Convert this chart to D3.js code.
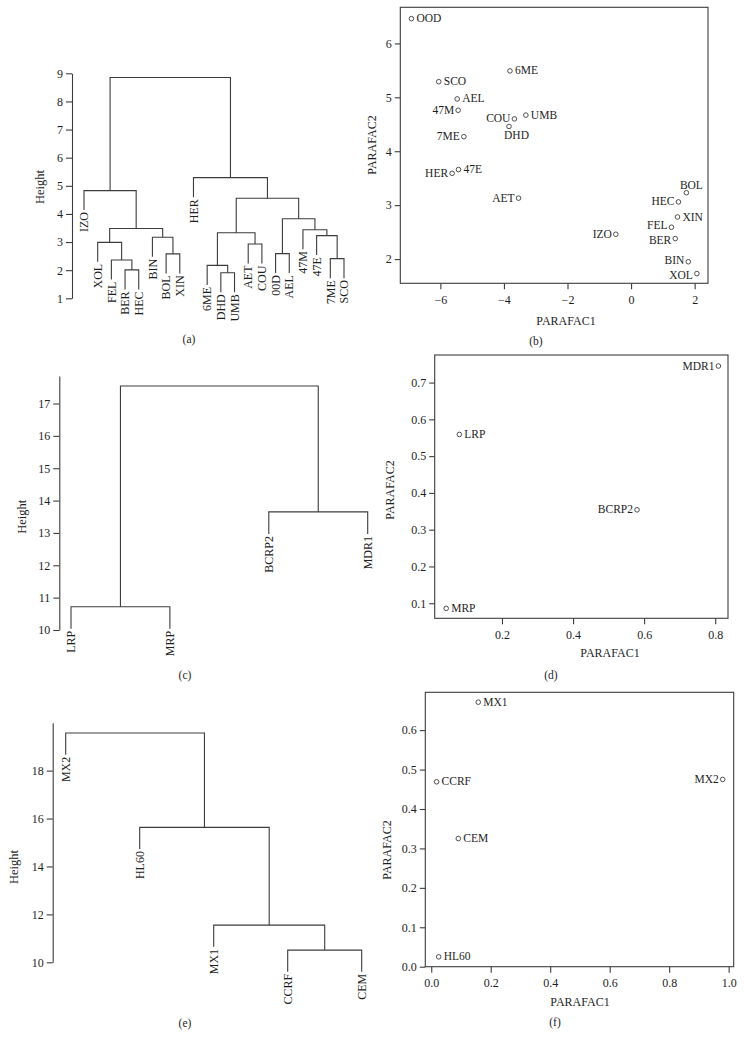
<!DOCTYPE html>
<html>
<head>
<meta charset="utf-8">
<script src="https://cdn.jsdelivr.net/npm/d3@7"></script>
<style>
body { margin: 0; background: #fff; }
text { font-family: "Liberation Serif", "Times New Roman", serif; fill: #1e1e1e; }
</style>
</head>
<body>
<svg id="fig" width="744" height="1049"></svg>
<script>
/*	Panel (a): dendrogram of the 20 samples ----------------*/
const leavesA = ["IZO","XOL","FEL","BER","HEC","BIN","BOL","XIN","HER","6ME",
                 "DHD","UMB","AET","COU","00D","AEL","47M","47E","7ME","SCO"];
/*	merges: [left, right, height]; a number points to an earlier merge */
const mergesA = [
	["BER","HEC",2.01],
	["FEL",0,2.36],
	["XOL",1,2.99],
	["BOL","XIN",2.58],
	["BIN",3,3.17],
	[2,4,3.48],
	["IZO",5,4.83],
	["DHD","UMB",1.91],
	["6ME",7,2.17],
	["AET","COU",2.93],
	[8,9,3.33],
	["00D","AEL",2.59],
	["7ME","SCO",2.41],
	["47E",12,3.23],
	["47M",13,3.44],
	[11,14,3.83],
	[10,15,4.56],
	["HER",16,5.29],
	[6,17,8.85]
];
const ticksA = [1,2,3,4,5,6,7,8,9];

/*	Panel (b): PARAFAC scores of the samples --------------*/
const namesB = ["OOD","SCO","6ME","AEL","47M","COU","UMB","DHD","7ME","HER",
                "47E","AET","BOL","HEC","XIN","FEL","BER","IZO","BIN","XOL"];
const pc1B = [-6.91,-6.05,-3.81,-5.47,-5.44,-3.67,-3.31,-3.84,-5.26,-5.63,
              -5.43,-3.54,1.74,1.49,1.46,1.27,1.39,-0.48,1.80,2.07];
const pc2B = [6.46,5.29,5.49,4.97,4.76,4.60,4.67,4.46,4.27,3.59,
              3.66,3.13,3.23,3.06,2.78,2.59,2.38,2.46,1.95,1.73];
/*	label side of each point, and a small vertical nudge for crowded ones */
const sideB = ["r","r","r","r","l","l","r","b","l","l",
               "r","l","t","l","r","l","l","l","l","l"];
const nudgeB = [0,0,0,0,0,0,0,0,0,0,
                0,0,0,0,0,-1.5,1.5,0,-1.5,1.5];
const xTicksB = [-6,-4,-2,0,2];
const yTicksB = [2,3,4,5,6];

/*	Panel (c): dendrogram of the transporters -------------*/
const leavesC = ["LRP","MRP","BCRP2","MDR1"];
const mergesC = [
	["LRP","MRP",10.72],
	["BCRP2","MDR1",13.65],
	[0,1,17.54]
];
const ticksC = [10,11,12,13,14,15,16,17];

/*	Panel (d): PARAFAC scores of the transporters ---------*/
const namesD = ["MDR1","LRP","BCRP2","MRP"];
const pc1D = [0.809,0.080,0.580,0.043];
const pc2D = [0.745,0.559,0.354,0.086];
const sideD = ["l","r","l","r"];
const xTicksD = [0.2,0.4,0.6,0.8];
const yTicksD = [0.1,0.2,0.3,0.4,0.5,0.6,0.7];

/*	Panel (e): dendrogram of the cell lines ---------------*/
const leavesE = ["MX2","HL60","MX1","CCRF","CEM"];
const mergesE = [
	["CCRF","CEM",10.51],
	["MX1",0,11.55],
	["HL60",1,15.63],
	["MX2",2,19.57]
];
const ticksE = [10,12,14,16,18];

/*	Panel (f): PARAFAC scores of the cell lines -----------*/
const namesF = ["MX1","CCRF","MX2","CEM","HL60"];
const pc1F = [0.158,0.018,0.980,0.091,0.025];
const pc2F = [0.671,0.469,0.475,0.325,0.025];
const sideF = ["r","r","l","r","r"];
const xTicksF = [0,0.2,0.4,0.6,0.8,1.0];
const yTicksF = [0,0.1,0.2,0.3,0.4,0.5,0.6];

const svg = d3.select("#fig");
svg.append("rect").attr("width",744).attr("height",1049).attr("fill","#fff");

const lineColor = "#3c3c3c";
const fs = 12;

/*	Caption helper ----------------------------------------*/
function caption(txt, x, y){
	svg.append("text").attr("x",x).attr("y",y).attr("dy","0.35em")
		.attr("text-anchor","middle").attr("font-size",11.5).text(txt);
}

/*	Dendrogram in R plot.hclust style ----------------------*/
function drawDendro(leaves, merges, ticks, o){
	let g = svg.append("g");
	let x = d3.scaleLinear().domain([0, leaves.length-1]).range([o.left, o.right]);
	let y = d3.scaleLinear().domain(o.yDomain).range(o.yRange);
	let hs = merges.map(m => m[2]);
	let hang = 0.1*(d3.max(hs)-d3.min(hs));
	let nodeX = [];
	let posX = r => typeof r === "string" ? x(leaves.indexOf(r)) : nodeX[r];
	merges.forEach((m,i) => {
		let xa = posX(m[0]), xb = posX(m[1]);
		nodeX[i] = (xa+xb)/2;
		let ends = [m[0],m[1]].map(r => typeof r === "string" ? m[2]-hang : merges[r][2]);
		g.append("path")
			.attr("d","M"+xa+","+y(ends[0])+"V"+y(m[2])+"H"+xb+"V"+y(ends[1]))
			.attr("fill","none").attr("stroke",lineColor).attr("stroke-width",1.1);
		[m[0],m[1]].forEach((r,k) => {
			if(typeof r !== "string") return;
			let lx = k===0 ? xa : xb;
			g.append("text")
				.attr("transform","translate("+lx+","+(y(ends[k])+2)+") rotate(-90)")
				.attr("text-anchor","end").attr("dy","0.35em")
				.attr("font-size",fs).text(r);
		});
	});
	/*	Left axis ---------------------------------------------*/
	let ax = g.append("g").attr("transform","translate("+o.axisX+",0)")
		.call(d3.axisLeft(y).tickValues(ticks).tickSize(6).tickSizeOuter(0).tickPadding(3).tickFormat(d3.format("d")));
	ax.select(".domain").attr("stroke",lineColor).attr("stroke-width",1.1);
	ax.selectAll(".tick line").attr("stroke",lineColor).attr("stroke-width",1.1);
	ax.selectAll(".tick text").attr("font-size",fs).attr("font-family",null).attr("fill","#1e1e1e");
	g.append("text")
		.attr("transform","translate("+o.titleX+","+o.titleY+") rotate(-90)")
		.attr("text-anchor","middle").attr("dy","0.35em").attr("font-size",12.5).text("Height");
}

/*	Scatter plot of PARAFAC scores -------------------------*/
function drawScatter(names, xv, yv, side, nudge, xTicks, yTicks, o){
	let g = svg.append("g");
	let x = d3.scaleLinear().domain(o.xDomain).range([o.l, o.r]);
	let y = d3.scaleLinear().domain(o.yDomain).range([o.b, o.t]);
	let fmt = o.fmt;

	let ax = g.append("g").attr("transform","translate(0,"+o.b+")")
		.call(d3.axisBottom(x).tickValues(xTicks).tickSize(6).tickSizeOuter(0).tickFormat(fmt));
	let ay = g.append("g").attr("transform","translate("+o.l+",0)")
		.call(d3.axisLeft(y).tickValues(yTicks).tickSize(5.5).tickSizeOuter(0).tickPadding(3).tickFormat(fmt));
	[ax, ay].forEach(a => {
		a.select(".domain").remove();
		a.selectAll(".tick line").attr("stroke",lineColor).attr("stroke-width",1.1);
		a.selectAll(".tick text").attr("font-size",fs).attr("font-family",null).attr("fill","#1e1e1e");
	});
	ax.selectAll(".tick text").attr("y",16.5).attr("dy","0.35em");

	g.append("rect").attr("x",o.l).attr("y",o.t).attr("width",o.r-o.l).attr("height",o.b-o.t)
		.attr("fill","none").attr("stroke",lineColor).attr("stroke-width",1.1);

	names.forEach((n,i) => {
		let px = x(xv[i]), py = y(yv[i]);
		let ny = nudge ? nudge[i] : 0;
		g.append("circle").attr("cx",px).attr("cy",py).attr("r",2.3)
			.attr("fill","none").attr("stroke",lineColor).attr("stroke-width",0.9);
		let t = g.append("text").attr("font-size",11.5).attr("dy","0.35em").text(n);
		if(side[i]==="r") t.attr("x",px+5).attr("y",py-0.5+ny);
		else if(side[i]==="l") t.attr("x",px-4).attr("y",py-0.5+ny).attr("text-anchor","end");
		else if(side[i]==="t") t.attr("x",px+5).attr("y",py-7.5).attr("text-anchor","middle");
		else t.attr("x",px+7.5).attr("y",py+9).attr("text-anchor","middle");
	});

	g.append("text").attr("x",o.x1X).attr("y",o.x1Y).attr("dy","0.35em")
		.attr("text-anchor","middle").attr("font-size",fs).text("PARAFAC1");
	g.append("text")
		.attr("transform","translate("+o.x2X+","+o.x2Y+") rotate(-90)")
		.attr("text-anchor","middle").attr("dy","0.35em").attr("font-size",fs).text("PARAFAC2");
}

/*	Draw the six panels -----------------------------------*/
drawDendro(leavesA, mergesA, ticksA,
	{left:84, right:344, yDomain:[1,9], yRange:[298.3,73.3], axisX:72, titleX:40, titleY:187});
caption("(a)", 189, 339);

drawScatter(namesB, pc1B, pc2B, sideB, nudgeB, xTicksB, yTicksB,
	{l:400.3, r:708, t:7.3, b:283.3, xDomain:[-7.26,2.42], yDomain:[1.55,6.67],
	 fmt:d3.format("d"), x1X:566, x1Y:321, x2X:372, x2Y:145});
caption("(b)", 536, 341);

drawDendro(leavesC, mergesC, ticksC,
	{left:71, right:367.7, yDomain:[10,17.85], yRange:[630,376], axisX:59.3, titleX:21.7, titleY:516.7});
caption("(c)", 185, 675);

drawScatter(namesD, pc1D, pc2D, sideD, null, xTicksD, yTicksD,
	{l:434.7, r:728, t:355, b:618.3, xDomain:[0.0107,0.836], yDomain:[0.059,0.775],
	 fmt:d3.format(".1f"), x1X:610, x1Y:653, x2X:390, x2Y:490});
caption("(d)", 551, 675);

drawDendro(leavesE, mergesE, ticksE,
	{left:65.7, right:361.7, yDomain:[10,20], yRange:[962.3,722.7], axisX:52.7, titleX:13.3, titleY:867});
caption("(e)", 185, 1023);

drawScatter(namesF, pc1F, pc2F, sideF, null, xTicksF, yTicksF,
	{l:425.3, r:733.7, t:692.3, b:966.7, xDomain:[-0.02,1.017], yDomain:[0,0.696],
	 fmt:d3.format(".1f"), x1X:580, x1Y:1001.7, x2X:387, x2Y:850});
caption("(f)", 555, 1021.7);
</script>
</body>
</html>
